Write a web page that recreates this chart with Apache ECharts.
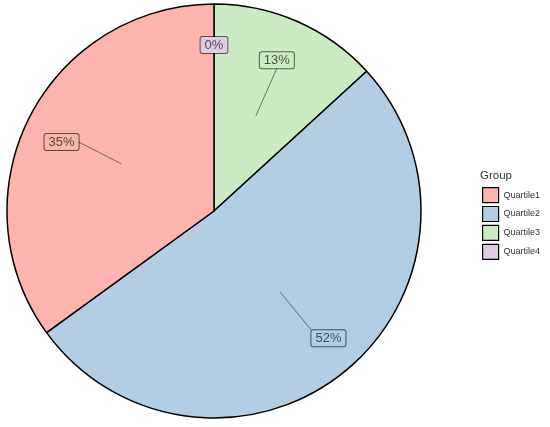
<!DOCTYPE html>
<html>
<head>
<meta charset="utf-8">
<script src="https://cdn.jsdelivr.net/npm/echarts@6/dist/echarts.min.js"></script>
<style>html,body{margin:0;padding:0;background:#fff}#c{width:550px;height:427px}</style>
</head>
<body>
<div id="c"></div>
<script>
// Data (clockwise from 12 o'clock)
var categories = ['Quartile4', 'Quartile3', 'Quartile2', 'Quartile1'];
var values = [0, 13.2, 51.8, 35.0];
var colors = ['#DECBE4', '#CCEBC5', '#B3CDE3', '#FBB4AE'];
var legendOrder = ['Quartile1', 'Quartile2', 'Quartile3', 'Quartile4'];
var legendTitle = 'Group';

// label placement styling (ggrepel-like), per slice
var labelLineLen = [62, 52, 50, 48];
var labelAlign = ['center', 'center', 'left', 'right'];
var labelVAlign = ['middle', 'bottom', 'top', 'middle'];

var chart = echarts.init(document.getElementById('c'), null, {renderer: 'canvas'});

var fillData = categories.map(function (n, i) {
  return {name: n, value: values[i], itemStyle: {color: colors[i]}};
});
var labelData = categories.map(function (n, i) {
  return {
    name: n, value: values[i],
    label: {backgroundColor: colors[i]},
    labelLine: {show: values[i] !== 0, length: labelLineLen[i]}
  };
});

chart.setOption({
  animation: false,
  title: {
    text: legendTitle, left: 475, top: 165,
    textStyle: {fontFamily: 'Liberation Sans', fontSize: 11.5, fontWeight: 'normal', color: '#333'}
  },
  legend: {
    data: legendOrder, orient: 'vertical', left: 477, top: 182, icon: 'rect',
    itemWidth: 16, itemHeight: 15, itemGap: 2.7, selectedMode: false,
    textStyle: {fontFamily: 'Liberation Sans', fontSize: 9, color: '#333'},
    itemStyle: {borderColor: '#000', borderWidth: 1.2}
  },
  series: [{
    type: 'pie', name: 'fill', center: [214, 211], radius: 207, z: 2,
    startAngle: 90, clockwise: true, silent: true,
    label: {show: false}, labelLine: {show: false},
    itemStyle: {borderColor: '#000', borderWidth: 1.5},
    data: fillData
  }, {
    type: 'pie', name: 'labels', center: [214, 211], radius: 104, z: 5,
    startAngle: 90, clockwise: true, silent: true,
    avoidLabelOverlap: false, percentPrecision: 0,
    itemStyle: {color: 'rgba(255,255,255,0)', borderWidth: 0},
    label: {
      show: true, position: 'outside', formatter: '{d}%',
      fontFamily: 'Liberation Sans', fontSize: 13, color: 'rgba(0,0,0,0.65)',
      borderColor: 'rgba(0,0,0,0.6)', borderWidth: 1, borderRadius: 2,
      padding: [2, 4, 1, 4], distanceToLabelLine: 0
    },
    labelLine: {show: true, length: 48, length2: 0, lineStyle: {color: '#555', width: 0.8, opacity: 1}},
    labelLayout: function (p) {
      return {align: labelAlign[p.dataIndex], verticalAlign: labelVAlign[p.dataIndex]};
    },
    data: labelData
  }]
});
</script>
</body>
</html>
